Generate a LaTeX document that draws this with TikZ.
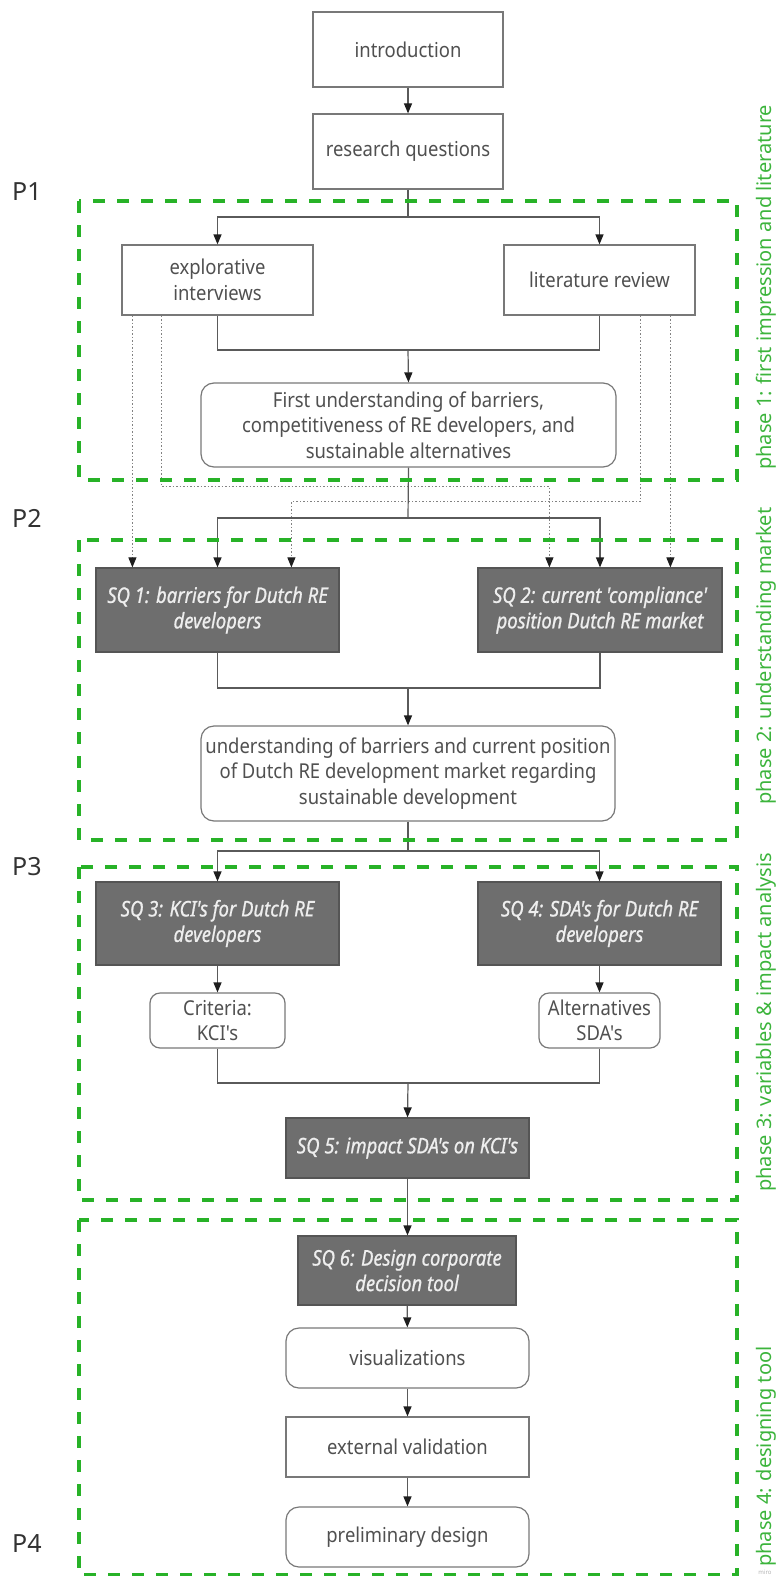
\documentclass[tikz,border=0pt]{standalone}
\usepackage{fontspec}
\setmainfont{Noto Sans}
\newfontfamily\boxfont[FakeStretch=0.9]{Noto Sans}
\newfontfamily\sqfont[FakeStretch=0.86,FakeBold=0.8]{Noto Sans}
\usetikzlibrary{calc,arrows.meta}

\definecolor{boxline}{RGB}{120,120,120}
\definecolor{txt}{RGB}{80,80,80}
\definecolor{sqfill}{RGB}{110,110,110}
\definecolor{sqline}{RGB}{85,85,85}
\definecolor{sqtext}{RGB}{238,238,238}
\definecolor{linecol}{RGB}{90,90,90}
\definecolor{arrowcol}{RGB}{30,30,30}
\definecolor{dotcol}{RGB}{130,130,130}
\definecolor{phgreen}{RGB}{40,178,40}
\definecolor{phtext}{RGB}{60,180,60}
\definecolor{ptext}{RGB}{50,50,50}

\tikzset{
  box/.style={draw=boxline, line width=1.2pt, fill=white, text=txt,
    font=\boxfont\fontsize{20.5}{25.5}\selectfont, align=center, inner sep=2pt},
  rbox/.style={box, rounded corners=13pt},
  sqbox/.style={draw=sqline, line width=1.2pt, fill=sqfill, text=sqtext,
    font=\sqfont\itshape\fontsize{21.5}{25.5}\selectfont, align=center, inner sep=2pt},
  conn/.style={draw=linecol, line width=1.2pt},
  arr/.style={conn, -{Triangle[length=10pt,width=8pt,color=arrowcol]}},
  dotarr/.style={draw=dotcol, line width=1pt, dash pattern=on 1.5pt off 2pt,
    -{Triangle[length=10pt,width=8pt,color=arrowcol]}},
  phasebox/.style={draw=phgreen, line width=3.5pt, dash pattern=on 12pt off 12pt},
  phaselbl/.style={text=phtext, font=\fontsize{20}{24}\selectfont,
    rotate=90, anchor=west, inner sep=0pt},
  plbl/.style={text=ptext, font=\fontsize{25}{30}\selectfont, anchor=base west, inner sep=0pt}
}

\begin{document}
\begin{tikzpicture}[x=1pt, y=-1pt]
\useasboundingbox (0,0) rectangle (777,1576);

% ---- nodes ----
\node[box, minimum width=190, minimum height=75] (intro) at (408,49.5) {introduction};
\node[box, minimum width=190, minimum height=75] (rq) at (408,151.5) {research questions};

\node[box, minimum width=191, minimum height=70] (expl) at (217.5,280) {explorative\\interviews};
\node[box, minimum width=191, minimum height=70] (lit) at (599.5,280) {literature review};
\node[rbox, minimum width=415, minimum height=84] (first) at (408.5,425)
  {First understanding of barriers,\\competitiveness of RE developers, and\\sustainable alternatives};

\node[sqbox, minimum width=243, minimum height=84] (sq1) at (217.5,610) {SQ 1: barriers for Dutch RE\\developers};
\node[sqbox, minimum width=244, minimum height=84] (sq2) at (600,610) {SQ 2: current 'compliance'\\position Dutch RE market};
\node[rbox, minimum width=414, minimum height=95] (und) at (408,773.5)
  {understanding of barriers and current position\\of Dutch RE development market regarding\\sustainable development};

\node[sqbox, minimum width=243, minimum height=83] (sq3) at (217.5,923.5) {SQ 3: KCI's for Dutch RE\\developers};
\node[sqbox, minimum width=243, minimum height=83] (sq4) at (599.5,923.5) {SQ 4: SDA's for Dutch RE\\developers};
\node[box, rounded corners=10pt, minimum width=135, minimum height=55] (crit) at (217.5,1020.5) {Criteria:\\KCI's};
\node[box, rounded corners=10pt, minimum width=121, minimum height=55] (alt) at (599.5,1020.5) {Alternatives\\SDA's};
\node[sqbox, minimum width=243, minimum height=60] (sq5) at (407.5,1148) {SQ 5: impact SDA's on KCI's};

\node[sqbox, minimum width=218, minimum height=69] (sq6) at (407,1270.5) {SQ 6: Design corporate\\decision tool};
\node[rbox, minimum width=243, minimum height=60] (vis) at (407.5,1358) {visualizations};
\node[box, minimum width=243, minimum height=60] (ext) at (407.5,1447) {external validation};
\node[rbox, minimum width=243, minimum height=60] (pre) at (407.5,1537) {preliminary design};

% ---- bend points ----
\coordinate (b1) at (408,217);
\coordinate (m1) at (408,350);
\coordinate (b2) at (408,518);
\coordinate (m2) at (408,688);
\coordinate (b3) at (408,851);
\coordinate (m3) at (408,1083);
\coordinate (dA) at ($(expl.south west)+(11,0)$);
\coordinate (dB) at ($(expl.south west)+(40,0)$);
\coordinate (dC) at ($(lit.south west)+(137,0)$);
\coordinate (dD) at ($(lit.south west)+(167,0)$);
\coordinate (tB) at ($(sq2.north west)+(72,0)$);
\coordinate (tC) at ($(sq1.north west)+(196,0)$);

% ---- dotted feeds from phase 1 sources ----
\draw[dotarr] (dA) -- (dA |- sq1.north);
\draw[dotarr] (dB) |- ($(tB)+(0,-81)$) -- (tB);
\draw[dotarr] (dC) |- ($(tC)+(0,-66)$) -- (tC);
\draw[dotarr] (dD) -- (dD |- sq2.north);

% ---- solid connectors ----
\draw[arr] (intro) -- (rq);
\draw[conn] (rq) -- (b1);
\draw[arr] (b1) -| (expl.north);
\draw[arr] (b1) -| (lit.north);
\draw[conn] (expl.south) |- (m1);
\draw[conn] (lit.south) |- (m1);
\draw[arr] (m1) -- (first.north);

\draw[conn] (first.south) -- (b2);
\draw[arr] (b2) -| (sq1.north);
\draw[arr] (b2) -| (sq2.north);
\draw[conn] (sq1.south) |- (m2);
\draw[conn] (sq2.south) |- (m2);
\draw[arr] (m2) -- (und.north);

\draw[conn] (und.south) -- (b3);
\draw[arr] (b3) -| (sq3.north);
\draw[arr] (b3) -| (sq4.north);
\draw[arr] (sq3) -- (crit);
\draw[arr] (sq4) -- (alt);
\draw[conn] (crit.south) |- (m3);
\draw[conn] (alt.south) |- (m3);
\draw[arr] (m3) -- (sq5.north);

\draw[arr] (sq5.south) -- (sq5.south |- sq6.north);
\draw[arr] (sq6) -- (vis);
\draw[arr] (vis) -- (ext);
\draw[arr] (ext) -- (pre);

% ---- phase frames ----
\draw[phasebox] (79,201) rectangle (737,480);
\draw[phasebox] (79,540) rectangle (737,840);
\draw[phasebox] (79,867) rectangle (737,1200);
\draw[phasebox] (79,1220) rectangle (737,1575);

% ---- phase labels ----
\node[phaselbl] (ph1) at (766,470) {phase 1: first impression and literature};
\node[phaselbl] (ph2) at (766,805) {phase 2: understanding market};
\node[phaselbl] (ph3) at (766,1192) {phase 3: variables \& impact analysis};
\node[phaselbl] (ph4) at (766,1567) {phase 4: designing tool};

\node[plbl] (p1) at (12,200) {P1};
\node[plbl] (p2) at (12,527) {P2};
\node[plbl] (p3) at (12,875) {P3};
\node[plbl] (p4) at (12,1552) {P4};

\node[text=black!30, font=\fontsize{6}{7}\selectfont, inner sep=0pt] (miro) at (765,1572) {miro};
\end{tikzpicture}
\end{document}
